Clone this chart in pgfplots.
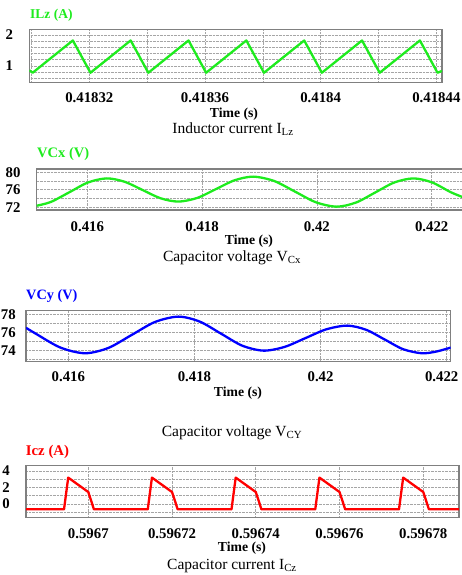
\documentclass[border=0pt]{standalone}
\usepackage{fontspec}
\setmainfont{Liberation Serif}
\usepackage{pgfplots}
\pgfplotsset{compat=1.18}

\definecolor{wgreen}{RGB}{30,235,30}
\definecolor{wblue}{RGB}{0,0,255}
\definecolor{wred}{RGB}{255,0,0}
\definecolor{framegray}{RGB}{128,128,128}
\definecolor{gridgray}{RGB}{165,165,165}

\newcommand{\tickfont}{\fontsize{14.8}{15}\selectfont\bfseries}

\pgfplotsset{
  panel/.style={
    scale only axis,
    anchor=south west,
    axis line style={draw=framegray, line width=1.3pt},
    grid=both,
    major grid style={densely dotted, draw=gridgray, line width=0.6pt},
    minor grid style={densely dotted, draw=gridgray, line width=0.6pt},
    tick style={draw=none},
    minor tick style={draw=none},
    ticklabel style={font=\tickfont},
    /pgf/number format/assume math mode=true,
    yticklabel style={anchor=east, inner sep=0pt, xshift=-16pt},
    xticklabel style={anchor=center, inner sep=0pt},
  },
  wave/.style={line width=2.3pt, line join=round, mark=none},
}

\begin{document}
\begin{tikzpicture}
\useasboundingbox (0,0) rectangle (461pt,575pt);

% inductor current, time in us after 0.4183 s
\begin{axis}[panel, at={(29.3pt,492.3pt)}, width=412.7pt, height=53.4pt,
  xmin=-0.75, xmax=141.95, ymin=0.46, ymax=2.18,
  xtick={20,60,100,140}, xticklabels={0.41832,0.41836,0.4184,0.41844},
  minor xtick={0,40,80,120},
  ytick={1,2}, minor ytick={0.6,0.8,1.2,1.4,1.6,1.8},
  xticklabel style={yshift=-15.3pt}]
\addplot[wave, wgreen] coordinates {
  (-0.75,0.86) (0.4,0.78) (14.3,1.82) (20.4,0.78) (34.3,1.82) (40.4,0.78)
  (54.3,1.82) (60.4,0.78) (74.3,1.82) (80.4,0.78) (94.3,1.82) (100.4,0.78)
  (114.3,1.82) (120.4,0.78) (134.3,1.82) (140.4,0.78) (141.95,0.84)};
\end{axis}

% capacitor voltage VCx
\begin{axis}[panel, at={(36.7pt,365pt)}, width=426.3pt, height=41pt,
  xmin=0.415118, xmax=0.422545, ymin=71.38, ymax=80.75,
  xtick={0.416,0.418,0.42,0.422}, xticklabels={0.416,0.418,0.42,0.422},
  ytick={72,76,80}, minor ytick={74,78},
  xticklabel style={yshift=-17pt}]
\addplot[wave, wgreen, smooth] coordinates {
  (0.415118,72.36) (0.415365,73.22) (0.415689,75.45) (0.416014,77.68) (0.416338,78.6)
  (0.416650,77.83) (0.416962,75.95) (0.417274,74.07) (0.417586,73.3)
  (0.417913,74.13) (0.418240,76.15) (0.418566,78.17) (0.418893,79.0)
  (0.419256,78.0) (0.419620,75.57) (0.419983,73.14) (0.420346,72.14)
  (0.420680,73.08) (0.421014,75.37) (0.421347,77.66) (0.421681,78.6)
  (0.422006,77.68) (0.422331,75.45) (0.422545,74.3)};
\end{axis}

% capacitor voltage VCy
\begin{axis}[panel, at={(26pt,213.3pt)}, width=424.7pt, height=51pt,
  xmin=0.415329, xmax=0.422063, ymin=72.73, ymax=78.4,
  xtick={0.416,0.418,0.42,0.422},
  xticklabels={0.416,0.418,0.42,{\hspace*{-10pt}0.422}},
  ytick={74,76,78}, minor ytick={73,75,77},
  yticklabel style={xshift=6pt},
  xticklabel style={yshift=-15.3pt}]
\addplot[wave, wblue, smooth] coordinates {
  (0.415329,76.5) (0.415485,75.84) (0.415875,74.30) (0.416265,73.67)
  (0.416635,74.26) (0.417006,75.71) (0.417376,77.15) (0.417746,77.74)
  (0.418083,77.19) (0.418421,75.85) (0.418758,74.51) (0.419095,73.96)
  (0.419427,74.37) (0.419759,75.35) (0.420091,76.33) (0.420423,76.74)
  (0.420718,76.29) (0.421013,75.21) (0.421308,74.12) (0.421603,73.67)
  (0.421830,73.85) (0.422063,74.3)};
\end{axis}

% capacitor current, time in us after 0.5967 s
\begin{axis}[panel, at={(26pt,57.5pt)}, width=433pt, height=52pt,
  xmin=-14.88, xmax=88.53, ymin=-1.64, ymax=4.67,
  xtick={0,20,40,60,80}, xticklabels={0.5967,0.59672,0.59674,0.59676,0.59678},
  ytick={0,2,4}, minor ytick={-1,1,3},
  xticklabel style={yshift=-16.5pt}]
\addplot[wave, wred] coordinates {
  (-14.88,-0.65) (-5.8,-0.65) (-4.8,3.2) (0,1.45) (1.35,-0.65)
  (14.2,-0.65) (15.2,3.2) (20,1.45) (21.35,-0.65)
  (34.2,-0.65) (35.2,3.2) (40,1.45) (41.35,-0.65)
  (54.2,-0.65) (55.2,3.2) (60,1.45) (61.35,-0.65)
  (74.2,-0.65) (75.2,3.2) (80,1.45) (81.35,-0.65) (88.53,-0.65)};
\end{axis}

\node[anchor=west, text=wgreen, font=\fontsize{13.5}{14}\selectfont\bfseries, inner sep=0pt] at (30pt,560pt) {ILz (A)};
\node[anchor=west, text=wgreen, font=\fontsize{14.5}{15}\selectfont\bfseries, inner sep=0pt] at (37pt,421pt) {VCx (V)};
\node[anchor=west, text=wblue, font=\fontsize{14.3}{15}\selectfont\bfseries, inner sep=0pt] at (26pt,279.3pt) {VCy (V)};
\node[anchor=west, text=wred, font=\fontsize{14.8}{15}\selectfont\bfseries, inner sep=0pt] at (25.7pt,123.3pt) {Icz (A)};

\node[font=\fontsize{13.7}{14}\selectfont\bfseries, inner sep=0pt] at (234pt,461pt) {Time (s)};
\node[font=\fontsize{13.7}{14}\selectfont\bfseries, inner sep=0pt] at (249pt,334pt) {Time (s)};
\node[font=\fontsize{13.7}{14}\selectfont\bfseries, inner sep=0pt] at (238pt,182pt) {Time (s)};
\node[font=\fontsize{13.7}{14}\selectfont\bfseries, inner sep=0pt] at (242pt,27pt) {Time (s)};

\node[font=\fontsize{15.5}{16}\selectfont, inner sep=0pt] at (233pt,445.5pt) {Inductor current I\textsubscript{Lz}};
\node[font=\fontsize{15.5}{16}\selectfont, inner sep=0pt] at (232pt,317pt) {Capacitor voltage V\textsubscript{Cx}};
\node[font=\fontsize{15.5}{16}\selectfont, inner sep=0pt] at (232pt,142pt) {Capacitor voltage V\textsubscript{CY}};
\node[font=\fontsize{15.5}{16}\selectfont, inner sep=0pt] at (232pt,9pt) {Capacitor current I\textsubscript{Cz}};
\end{tikzpicture}
\end{document}
